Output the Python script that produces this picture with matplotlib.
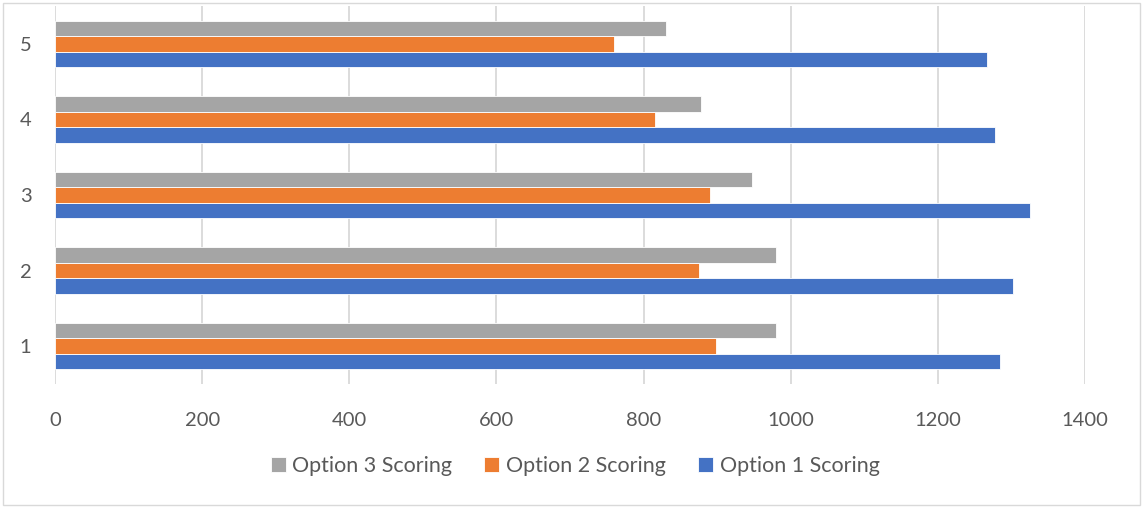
import matplotlib.pyplot as plt
import matplotlib.patches as mpatches
import numpy as np

categories = ["1", "2", "3", "4", "5"]
option1 = [1285, 1302, 1325, 1278, 1267]
option2 = [898, 875, 890, 815, 760]
option3 = [980, 980, 947, 878, 830]
x_ticks = [0, 200, 400, 600, 800, 1000, 1200, 1400]

plt.rcParams['font.family'] = ['Lato', 'DejaVu Sans']
text_col = "#595959"

fig = plt.figure(figsize=(11.44, 5.08), dpi=100)
ax = fig.add_axes([55/1144, 1-384/508, 1030/1144, 378/508])

y = np.arange(1, len(categories) + 1)
h = 0.205
ax.barh(y - h, option1, height=h, color="#4472C4", edgecolor="white", linewidth=0.6, label="Option 1 Scoring", zorder=3)
ax.barh(y, option2, height=h, color="#ED7D31", edgecolor="white", linewidth=0.6, label="Option 2 Scoring", zorder=3)
ax.barh(y + h, option3, height=h, color="#A5A5A5", edgecolor="white", linewidth=0.6, label="Option 3 Scoring", zorder=3)

ax.set_xlim(0, 1400)
ax.set_ylim(0.5, 5.5)
ax.set_xticks(x_ticks)
ax.set_yticks(y)
ax.set_yticklabels(categories)
ax.grid(axis="x", color="#D9D9D9", linewidth=1.3, zorder=0)
for s in ax.spines.values():
    s.set_visible(False)
ax.tick_params(axis="both", length=0, labelsize=14.5, labelcolor=text_col)
ax.tick_params(axis="x", pad=20)
ax.tick_params(axis="y", pad=17)

handles, labels = ax.get_legend_handles_labels()
fig.legend(handles[::-1], labels[::-1], loc="center", bbox_to_anchor=(575/1144, 1-466/508),
           ncol=3, frameon=False, fontsize=15.5, labelcolor=text_col,
           handlelength=0.7, handleheight=0.7, handletextpad=0.3, columnspacing=1.5)

fig.patches.append(mpatches.Rectangle((3/1144, 3/508), 1137/1144, 502/508, transform=fig.transFigure,
                                      fill=False, edgecolor="#D9D9D9", linewidth=1))

fig.savefig("out.png", dpi=100)
